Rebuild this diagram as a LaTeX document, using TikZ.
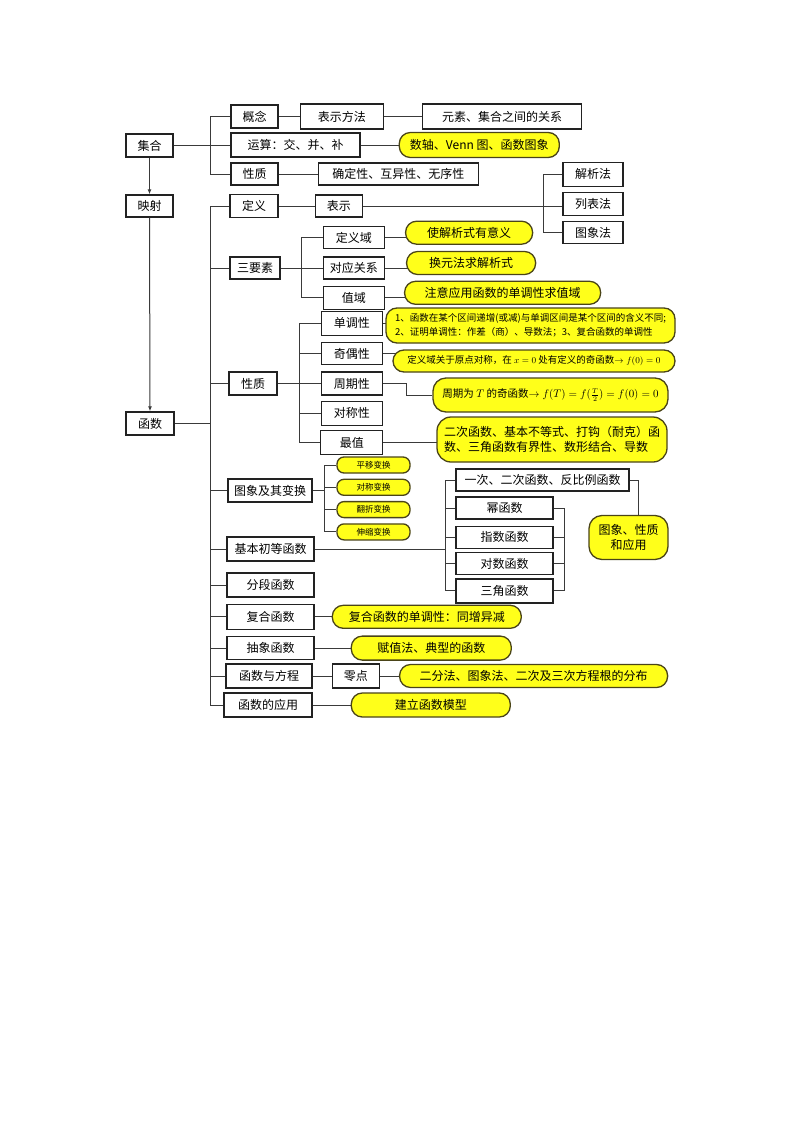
\documentclass[tikz,border=0pt]{standalone}
\usepackage{amsmath}
\usepackage{fontspec}
\setmainfont{Noto Sans CJK SC}
\usepackage{tikz}
\usetikzlibrary{positioning,backgrounds,arrows.meta}
\definecolor{ink}{HTML}{222222}
\definecolor{wire}{HTML}{3A3A3A}
\definecolor{bubY}{HTML}{FFFF1A}
\definecolor{bubEdge}{HTML}{4A4418}

\begin{document}
\begin{tikzpicture}[x=1pt,y=-1pt,
  box/.style={draw=ink,line width=1.3pt,fill=white,inner sep=1pt,minimum height=23pt,font=\fontsize{12}{14}\selectfont},
  bub/.style={draw=bubEdge,line width=1.3pt,fill=bubY,rounded corners=11pt,inner sep=2pt,minimum height=23pt,align=center,font=\fontsize{12}{15}\selectfont},
  minibub/.style={bub,rounded corners=7pt,minimum height=16pt,minimum width=73pt,font=\fontsize{8.5}{10}\selectfont},
  lnk/.style={draw=wire,line width=1pt},
  arr/.style={-{Latex[length=5pt,width=4pt]},line width=1pt,color=wire}
]
  \useasboundingbox (0,0) rectangle (800,1132);
  % left column
  \node[box,minimum width=47pt] (jihe) at (149.5,145.5) {集合};
  \node[box,minimum width=47pt,minimum height=22pt] (yingshe) at (149.5,206) {映射};
  \node[box,minimum width=48pt] (hanshu) at (150,423.5) {函数};
  % sets
  \node[box,minimum width=47pt] (gainian) at (254.5,116.5) {概念};
  \node[box,minimum width=83pt,minimum height=25pt,right=21pt of gainian] (biaoshifa) {表示方法};
  \node[box,minimum width=159pt,minimum height=25pt,right=38pt of biaoshifa] (guanxi) {元素、集合之间的关系};
  \node[box,minimum width=129pt,minimum height=24pt] (yunsuan) at (295.5,145) {运算：交、并、补};
  \node[bub,minimum width=160pt,minimum height=25pt,right=38pt of yunsuan] (shuzhou) {数轴、Venn 图、函数图象};
  \node[box,minimum width=47pt,minimum height=22pt] (jxingzhi) at (254.5,174) {性质};
  \node[box,minimum width=160pt,minimum height=22pt,right=39pt of jxingzhi] (queding) {确定性、互异性、无序性};
  % definition
  \node[box,minimum width=48pt] (dingyi) at (254,206) {定义};
  \node[box,minimum width=47pt,minimum height=22pt,right=36pt of dingyi] (biaoshi) {表示};
  \node[box,minimum width=60pt] (liebiao) at (593,204) {列表法};
  \node[box,minimum width=60pt,minimum height=24pt,above=5pt of liebiao] (jiexi) {解析法};
  \node[box,minimum width=60pt,minimum height=22pt,below=5pt of liebiao] (tuxiangfa) {图象法};
  % three elements
  \node[box,minimum width=50pt,minimum height=22pt] (sanyaosu) at (255,268) {三要素};
  \node[box,minimum width=61pt,minimum height=22pt,right=42pt of sanyaosu] (duiying) {对应关系};
  \node[box,minimum width=61pt,minimum height=22pt,above=7pt of duiying] (dingyiyu) {定义域};
  \node[box,minimum width=61pt,minimum height=23pt,below=6pt of duiying] (zhiyu) {值域};
  \node[bub,minimum width=127pt,right=20pt of dingyiyu,yshift=5pt] (bdingyiyu) {使解析式有意义};
  \node[bub,minimum width=129pt,right=21pt of duiying,yshift=5pt] (bduiying) {换元法求解析式};
  \node[bub,minimum width=196pt,right=19pt of zhiyu,yshift=5pt] (bzhiyu) {注意应用函数的单调性求值域};
  % properties
  \node[box,minimum width=48pt] (xingzhi) at (253,383.5) {性质};
  \node[box,minimum width=61pt,right=43pt of xingzhi] (zhouqi) {周期性};
  \node[box,minimum width=61pt,minimum height=22pt,above=6pt of zhouqi] (jiou) {奇偶性};
  \node[box,minimum width=61pt,minimum height=24pt,above=6pt of jiou] (dandiao) {单调性};
  \node[box,minimum width=61pt,minimum height=24pt,below=5pt of zhouqi] (duicheng) {对称性};
  \node[box,minimum width=62pt,minimum height=24pt,below=4pt of duicheng] (zuizhi) {最值};
  \node[bub,minimum width=289pt,minimum height=35pt,align=left,font=\fontsize{9.5}{14}\selectfont] (bdandiao) at (530.5,325.5)
    {1、函数在某个区间递增(或减)与单调区间是某个区间的含义不同;\\2、证明单调性：作差（商）、导数法；3、复合函数的单调性};
  \node[bub,minimum width=282pt,minimum height=22pt,font=\fontsize{9.5}{11}\selectfont] (bjiou) at (534,361)
    {定义域关于原点对称，在 $x=0$ 处有定义的奇函数$\to f(0)=0$};
  \node[bub,minimum width=235pt,minimum height=34pt,rounded corners=13pt,font=\fontsize{10.5}{13}\selectfont] (bzhouqi) at (550.5,395)
    {周期为 $T$ 的奇函数$\to f(T)=f(\tfrac{T}{2})=f(0)=0$};
  \node[bub,minimum width=230pt,minimum height=45pt,rounded corners=14pt,align=left] (bzuizhi) at (552,439.5)
    {二次函数、基本不等式、打钩（耐克）函\\数、三角函数有界性、数形结合、导数};
  % graphs
  \node[box,minimum width=84pt] (tuxiangbh) at (270,490.5) {图象及其变换};
  \node[minibub] (pingyi) at (373.5,465) {平移变换};
  \node[minibub,below=5pt of pingyi] (duichengbh) {对称变换};
  \node[minibub,below=5pt of duichengbh] (fanzhe) {翻折变换};
  \node[minibub,below=5pt of fanzhe] (shensuo) {伸缩变换};
  % elementary functions
  \node[box,minimum width=87pt,minimum height=24pt] (jiben) at (270.5,549) {基本初等函数};
  \node[box,minimum width=173pt,minimum height=22pt] (yici) at (542.5,480) {一次、二次函数、反比例函数};
  \node[box,minimum width=97pt,minimum height=22pt] (mi) at (504.5,508) {幂函数};
  \node[box,minimum width=97pt,minimum height=22pt,below=6pt of mi] (zhishu) {指数函数};
  \node[box,minimum width=97pt,minimum height=22pt,below=3pt of zhishu] (duishu) {对数函数};
  \node[box,minimum width=97pt,minimum height=24pt,below=3pt of duishu] (sanjiao) {三角函数};
  \node[bub,minimum width=79pt,minimum height=44pt,rounded corners=13pt] (btuxiang) at (628.5,537.5) {图象、性质\\和应用};
  % others
  \node[box,minimum width=87pt,minimum height=24pt] (fenduan) at (270.5,585) {分段函数};
  \node[box,minimum width=87pt,minimum height=25pt,below=6pt of fenduan] (fuhe) {复合函数};
  \node[box,minimum width=87pt,below=6pt of fuhe] (chouxiang) {抽象函数};
  \node[box,minimum width=86pt,minimum height=24pt] (fangcheng) at (269,676) {函数与方程};
  \node[box,minimum width=88pt,minimum height=24pt] (yingyong) at (268,705) {函数的应用};
  \node[box,minimum width=47pt,minimum height=24pt,right=19pt of fangcheng] (lingdian) {零点};
  \node[bub,minimum width=268pt,right=19pt of lingdian] (blingdian) {二分法、图象法、二次及三次方程根的分布};
  \node[bub,minimum width=189pt,right=17pt of fuhe] (bfuhe) {复合函数的单调性：同增异减};
  \node[bub,minimum width=160pt,minimum height=24pt,right=36pt of chouxiang] (bchouxiang) {赋值法、典型的函数};
  \node[bub,minimum width=159pt,minimum height=24pt,right=38pt of yingyong] (byingyong) {建立函数模型};
  % bracket spines
  \coordinate (k1) at (210,145.5);
  \coordinate (k2) at (210,423.5);
  \coordinate (k3) at (543,206);
  \coordinate (k4) at (301,268);
  \coordinate (k5) at (299,383.5);
  \coordinate (k6) at (324,490.5);
  \coordinate (k7) at (445,549);
  \coordinate (k8) at (564,536);

  \draw[arr] (jihe.south) -- (yingshe.north);
  \draw[arr] (yingshe.south) -- (hanshu.north);

  \begin{scope}[on background layer]
    \draw[lnk] (jihe) -- (k1);
    \draw[lnk] (gainian.west -| k1) -- (jxingzhi.west -| k1);
    \foreach \n in {gainian,yunsuan,jxingzhi}
      \draw[lnk] (\n.west) -- (\n.west -| k1);
    \draw[lnk] (gainian) -- (biaoshifa) -- (guanxi);
    \draw[lnk] (yunsuan) -- (shuzhou);
    \draw[lnk] (jxingzhi) -- (queding);

    \draw[lnk] (hanshu) -- (k2);
    \draw[lnk] (dingyi.west -| k2) -- (yingyong.west -| k2);
    \foreach \n in {dingyi,sanyaosu,xingzhi,tuxiangbh,jiben,fenduan,fuhe,chouxiang,fangcheng,yingyong}
      \draw[lnk] (\n.west) -- (\n.west -| k2);

    \draw[lnk] (dingyi) -- (biaoshi) -- (biaoshi -| liebiao);
    \draw[lnk] (jiexi.west -| k3) -- (tuxiangfa.west -| k3);
    \foreach \n in {jiexi,tuxiangfa}
      \draw[lnk] (\n.west) -- (\n.west -| k3);

    \draw[lnk] (sanyaosu) -- (k4);
    \draw[lnk] (dingyiyu.west -| k4) -- (zhiyu.west -| k4);
    \foreach \n in {dingyiyu,duiying,zhiyu}
      \draw[lnk] (\n.west) -- (\n.west -| k4);
    \foreach \n in {dingyiyu,duiying,zhiyu}
      \draw[lnk] (\n) -- (\n -| b\n);

    \draw[lnk] (xingzhi) -- (k5);
    \draw[lnk] (dandiao.west -| k5) -- (zuizhi.west -| k5);
    \foreach \n in {dandiao,jiou,zhouqi,duicheng,zuizhi}
      \draw[lnk] (\n.west) -- (\n.west -| k5);
    \draw[lnk] (dandiao) -- (dandiao -| bdandiao);
    \draw[lnk] (jiou) -- (jiou -| bjiou);
    \draw[lnk] (zhouqi.east) -- ++(24pt,0) |- (bzhouqi);
    \draw[lnk] (zuizhi) -- (zuizhi -| bzuizhi);

    \draw[lnk] (tuxiangbh) -- (k6);
    \draw[lnk] (pingyi.west -| k6) -- (shensuo.west -| k6);
    \foreach \n in {pingyi,duichengbh,fanzhe,shensuo}
      \draw[lnk] (\n.west) -- (\n.west -| k6);

    \draw[lnk] (jiben) -- (k7);
    \draw[lnk] (yici.west -| k7) -- (sanjiao.west -| k7);
    \foreach \n in {yici,mi,zhishu,duishu,sanjiao}
      \draw[lnk] (\n.west) -- (\n.west -| k7);
    \draw[lnk] (mi.east -| k8) -- (sanjiao.east -| k8);
    \foreach \n in {mi,zhishu,duishu,sanjiao}
      \draw[lnk] (\n.east) -- (\n.east -| k8);
    \draw[lnk] (yici) -| ([xshift=10pt]btuxiang.center);

    \draw[lnk] (fuhe) -- (bfuhe);
    \draw[lnk] (chouxiang) -- (bchouxiang);
    \draw[lnk] (fangcheng) -- (lingdian) -- (blingdian);
    \draw[lnk] (yingyong) -- (byingyong);
  \end{scope}
\end{tikzpicture}
\end{document}
